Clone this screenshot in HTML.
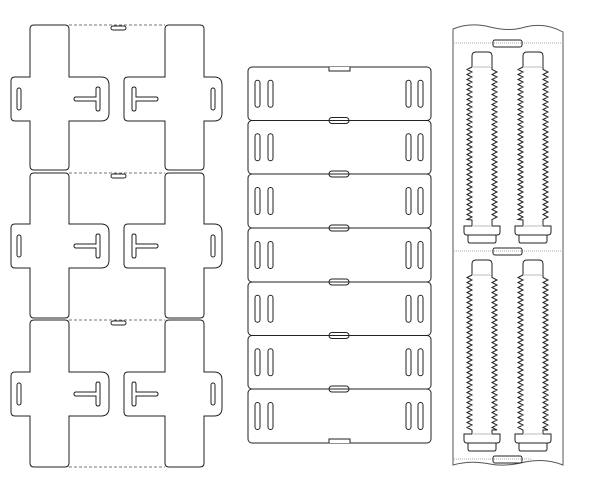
<!DOCTYPE html>
<html><head><meta charset="utf-8"><style>html,body{margin:0;padding:0;background:#fff}svg{display:block}</style></head>
<body>
<svg id="s" width="600" height="500" viewBox="0 0 600 500" xmlns="http://www.w3.org/2000/svg" fill="none" stroke="#222" stroke-width="1">
</svg>
<script>
const s=document.getElementById('s');let h='';
function P(d,extra){h+=`<path d="${d}" ${extra||''}/>`;}
function R(x,y,w,hh,r,extra){h+=`<rect x="${x}" y="${y}" width="${w}" height="${hh}" rx="${r}" ${extra||''}/>`;}
// left panel crosses
const rows=[[25,170,77,121],[173,318,224,268],[320,467,372,416]];
function cross(xl,xr,al,ar,t,b,at,ab){
  const r=4;
  P(`M${xl+r},${t} H${xr-r} Q${xr},${t} ${xr},${t+r} V${at} H${ar-8} Q${ar},${at} ${ar},${at+8} V${ab-8} Q${ar},${ab} ${ar-8},${ab} H${xr} V${b-r} Q${xr},${b} ${xr-r},${b} H${xl+r} Q${xl},${b} ${xl},${b-r} V${ab} H${al+4} Q${al},${ab} ${al},${ab-4} V${at+4} Q${al},${at} ${al+4},${at} H${xl} V${t+r} Q${xl},${t} ${xl+r},${t} Z`);
}
rows.forEach(([t,b,at,ab])=>{
  cross(30,69,11,109,t,b,at,ab);
  cross(165,204,124,222,t,b,at,ab);
  const m=(at+ab)/2;
  R(17,m-11,4,22,2);R(211,m-11,4,22,2);
  // T left
  P(`M76,${m+2} H96 V${m+10} Q96,${m+12} 98,${m+12} Q100,${m+12} 100,${m+10} V${m-10} Q100,${m-12} 98,${m-12} Q96,${m-12} 96,${m-10} V${m-2} H76 Q74,${m-2} 74,${m} Q74,${m+2} 76,${m+2} Z`);
  // T right
  P(`M156,${m+2} H136 V${m+10} Q136,${m+12} 134,${m+12} Q132,${m+12} 132,${m+10} V${m-10} Q132,${m-12} 134,${m-12} Q136,${m-12} 136,${m-10} V${m-2} H156 Q158,${m-2} 158,${m} Q158,${m+2} 156,${m+2} Z`);
  P(`M69,${t} H165`,'stroke="#777" stroke-dasharray="3,2"');
  R(111,t+1,15,4,2);
});
P(`M69,467 H165`,'stroke="#777" stroke-dasharray="3,2"');
// middle panel
const my=[67,120.5,174,228,282,335.5,389,443];
for(let i=0;i<7;i++){
  const t=my[i],b=my[i+1];
  R(248,t,183,b-t,4);
  const m=(t+b)/2;
  [255,268,406,418].forEach(x=>R(x,m-13.5,5,27,2.5));
}
for(let i=1;i<7;i++)R(329,my[i]-3,20,6,3);
P('M329,67 V71 H350 V67','stroke="#222" fill="#fff"');
P('M329,443 V439 H350 V443','stroke="#222" fill="#fff"');
// right panel
P('M453,29 Q470,22 490,27 Q510,32 525,27 Q545,22 563,32 V465 Q545,458 525,462 Q505,467 490,464 Q470,460 453,465 Z','stroke="#555"');
P('M454,43 H562','stroke="#aaa" stroke-dasharray="1,1"');
P('M454,251 H562','stroke="#aaa" stroke-dasharray="1,1"');
P('M454,459 H531','stroke="#aaa" stroke-dasharray="1,1"');
R(493,40,29,7,2);R(493,248,29,7,2);R(493,456,29,7,2);
function screw(x,top,tEnd,fl){
  // x = left of thread zone
  P(`M${x+5},${top+15} V${top+4} Q${x+5},${top} ${x+9},${top} H${x+21} Q${x+25},${top} ${x+25},${top+4} V${top+15}`);
  P(`M${x+5},${top+15} H${x+25}`,'stroke="#bbb"');
  let a=`M${x+5},${top+15}`,b=`M${x+25},${top+15}`;
  let y=top+15,k=0;
  while(y<tEnd-2){y+=2.5;k++;a+=` L${k%2?x:x+5},${y}`;b+=` L${k%2?x+25:x+30},${y}`;}
  a+=` L${x+5},${tEnd} V${fl}`;b+=` L${x+25},${tEnd} V${fl}`;
  P(a);P(b);
  P(`M${x+5},${fl} H${x-3} V${fl+6} Q${x-3},${fl+9} ${x},${fl+9} H${x+30} Q${x+33},${fl+9} ${x+33},${fl+6} V${fl} H${x+25}`);
  P(`M${x+5},${fl} H${x+25}`,'stroke="#bbb"');
  P(`M${x+1},${fl+9} V${fl+15} Q${x+1},${fl+17} ${x+3},${fl+17} H${x+27} Q${x+29},${fl+17} ${x+29},${fl+15} V${fl+9}`);
}
screw(467,52,220,226);screw(518,52,220,226);
screw(467,260,430,434);screw(518,260,430,434);
s.innerHTML=h;
</script>
</body></html>
